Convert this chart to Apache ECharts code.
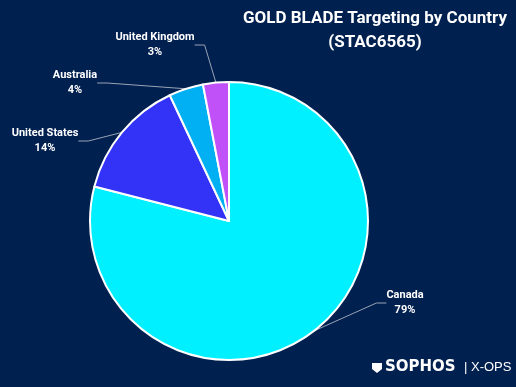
<!DOCTYPE html>
<html><head><meta charset="utf-8">
<script src="https://cdn.jsdelivr.net/npm/echarts@6/dist/echarts.min.js"></script>
<style>html,body{margin:0;padding:0;background:#002050;}#c{width:516px;height:387px;}</style>
</head><body><div id="c"></div>
<script>
const categories = ['Canada', 'United States', 'Australia', 'United Kingdom'];
const values = [79, 14, 4, 3];
const colors = ['#00F0FF', '#3333F8', '#00B0F2', '#C050F8'];
const titleLines = ['GOLD BLADE Targeting by Country', '(STAC6565)'];

const labelPos = {
  'Canada': [405, 303],
  'United States': [45, 141],
  'Australia': [75, 83],
  'United Kingdom': [155, 45]
};

const chart = echarts.init(document.getElementById('c'));
chart.setOption({
  backgroundColor: '#002050',
  title: {
    text: titleLines.join('\n'),
    left: 370, top: 2, textAlign: 'center',
    textStyle: { color: '#fff', fontFamily: 'Roboto', fontWeight: 'bold', fontSize: 17, lineHeight: 24 }
  },
  series: [{
    type: 'pie',
    center: [229, 221],
    radius: [0, 139],
    startAngle: 90,
    clockwise: true,
    data: categories.map((c, i) => ({ name: c, value: values[i], itemStyle: { color: colors[i] } })),
    itemStyle: { borderColor: '#fff', borderWidth: 2 },
    label: {
      show: true,
      color: '#fff',
      fontFamily: 'Roboto',
      fontWeight: 'bold',
      fontSize: 11,
      lineHeight: 15,
      align: 'center',
      formatter: p => p.name + '\n' + p.value + '%'
    },
    labelLine: { show: true, lineStyle: { color: '#9aa4b4', width: 1 }, length: 20, length2: 10 },
    labelLayout: function (params) {
      const name = categories[params.dataIndex];
      const pos = labelPos[name];
      return { x: pos[0], y: pos[1], align: 'center', verticalAlign: 'middle' };
    }
  }],
  graphic: [
    { type: 'text', x: 385, y: 360, style: { text: 'SOPHOS', fill: '#fff', font: 'bold 15px "DejaVu Sans"' } },
    { type: 'text', x: 464, y: 361, style: { text: '| X-OPS', fill: '#fff', font: '13px "Liberation Sans"' } },
    { type: 'polygon', x: 372, y: 363, shape: { points: [[0,0],[10,0],[10,6],[5,10],[0,6]] }, style: { fill: '#fff' } }
  ]
});
</script></body></html>
